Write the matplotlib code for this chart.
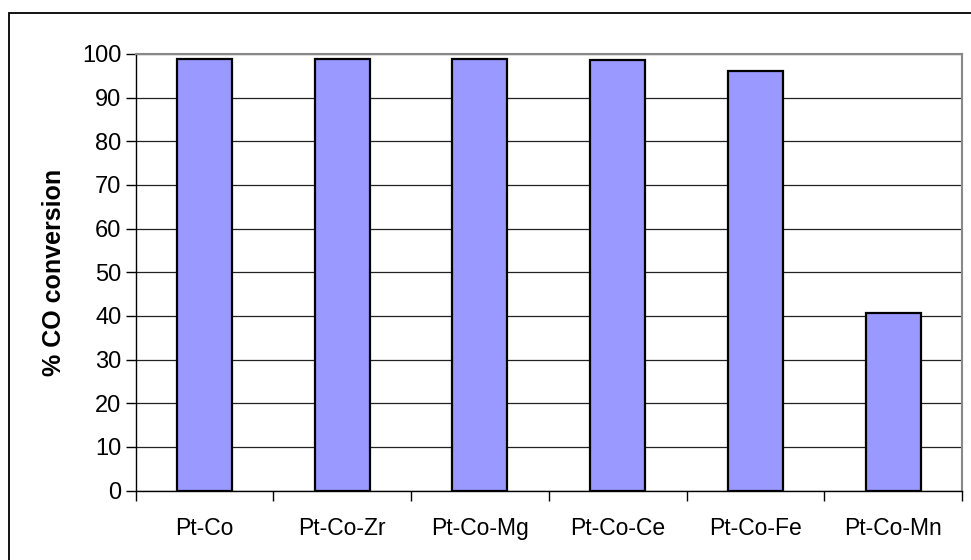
import matplotlib
matplotlib.use("Agg")
import matplotlib.pyplot as plt
from matplotlib.patches import Rectangle
import numpy as np

catalysts = ["Pt-Co", "Pt-Co-Zr", "Pt-Co-Mg", "Pt-Co-Ce", "Pt-Co-Fe", "Pt-Co-Mn"]
co_conversion = [98.9, 98.8, 98.9, 98.6, 96.0, 40.6]
y_ticks = [0, 10, 20, 30, 40, 50, 60, 70, 80, 90, 100]

plt.rcParams["font.family"] = ["Liberation Sans", "DejaVu Sans"]

W, H = 971, 560
fig = plt.figure(figsize=(W / 100, H / 100), dpi=100)
fig.patch.set_facecolor("white")

# chart-area border (open on the right and bottom)
fig.patches.append(Rectangle((9 / W, -0.05), 1.1, (H - 13) / H + 0.05,
                             transform=fig.transFigure, fill=False,
                             edgecolor="black", linewidth=1.3, zorder=0))

ax = fig.add_axes([135.5 / W, (H - 490.5) / H, (962 - 135.5) / W, (490.5 - 54) / H])

x = np.arange(len(catalysts))
ax.bar(x, co_conversion, width=0.4, color="#9999FF", edgecolor="black",
       linewidth=1.6, zorder=3)

ax.set_ylim(0, 100)
ax.set_xlim(-0.5, len(catalysts) - 0.5)
ax.set_yticks(y_ticks)
ax.set_yticklabels([str(v) for v in y_ticks], fontsize=17)
ax.yaxis.grid(True, color="#222222", linewidth=0.9, zorder=1)
ax.set_axisbelow(True)

ax.set_xticks(x)
ax.set_xticklabels(catalysts, fontsize=16.5)
ax.tick_params(axis="x", which="major", length=0, pad=19)
ax.set_xticks(np.arange(-0.5, len(catalysts)), minor=True)
ax.tick_params(axis="x", which="minor", length=7, width=1.0, color="black")
ax.tick_params(axis="y", length=7, width=1.0, color="black", pad=3)

for side in ("top", "right"):
    ax.spines[side].set_color("#888888")
    ax.spines[side].set_linewidth(1.5)
for side in ("left", "bottom"):
    ax.spines[side].set_color("black")
    ax.spines[side].set_linewidth(1.0)

ax.set_ylabel("% CO conversion", fontsize=18, fontweight="bold", labelpad=12)

fig.savefig("out.png", dpi=100)
